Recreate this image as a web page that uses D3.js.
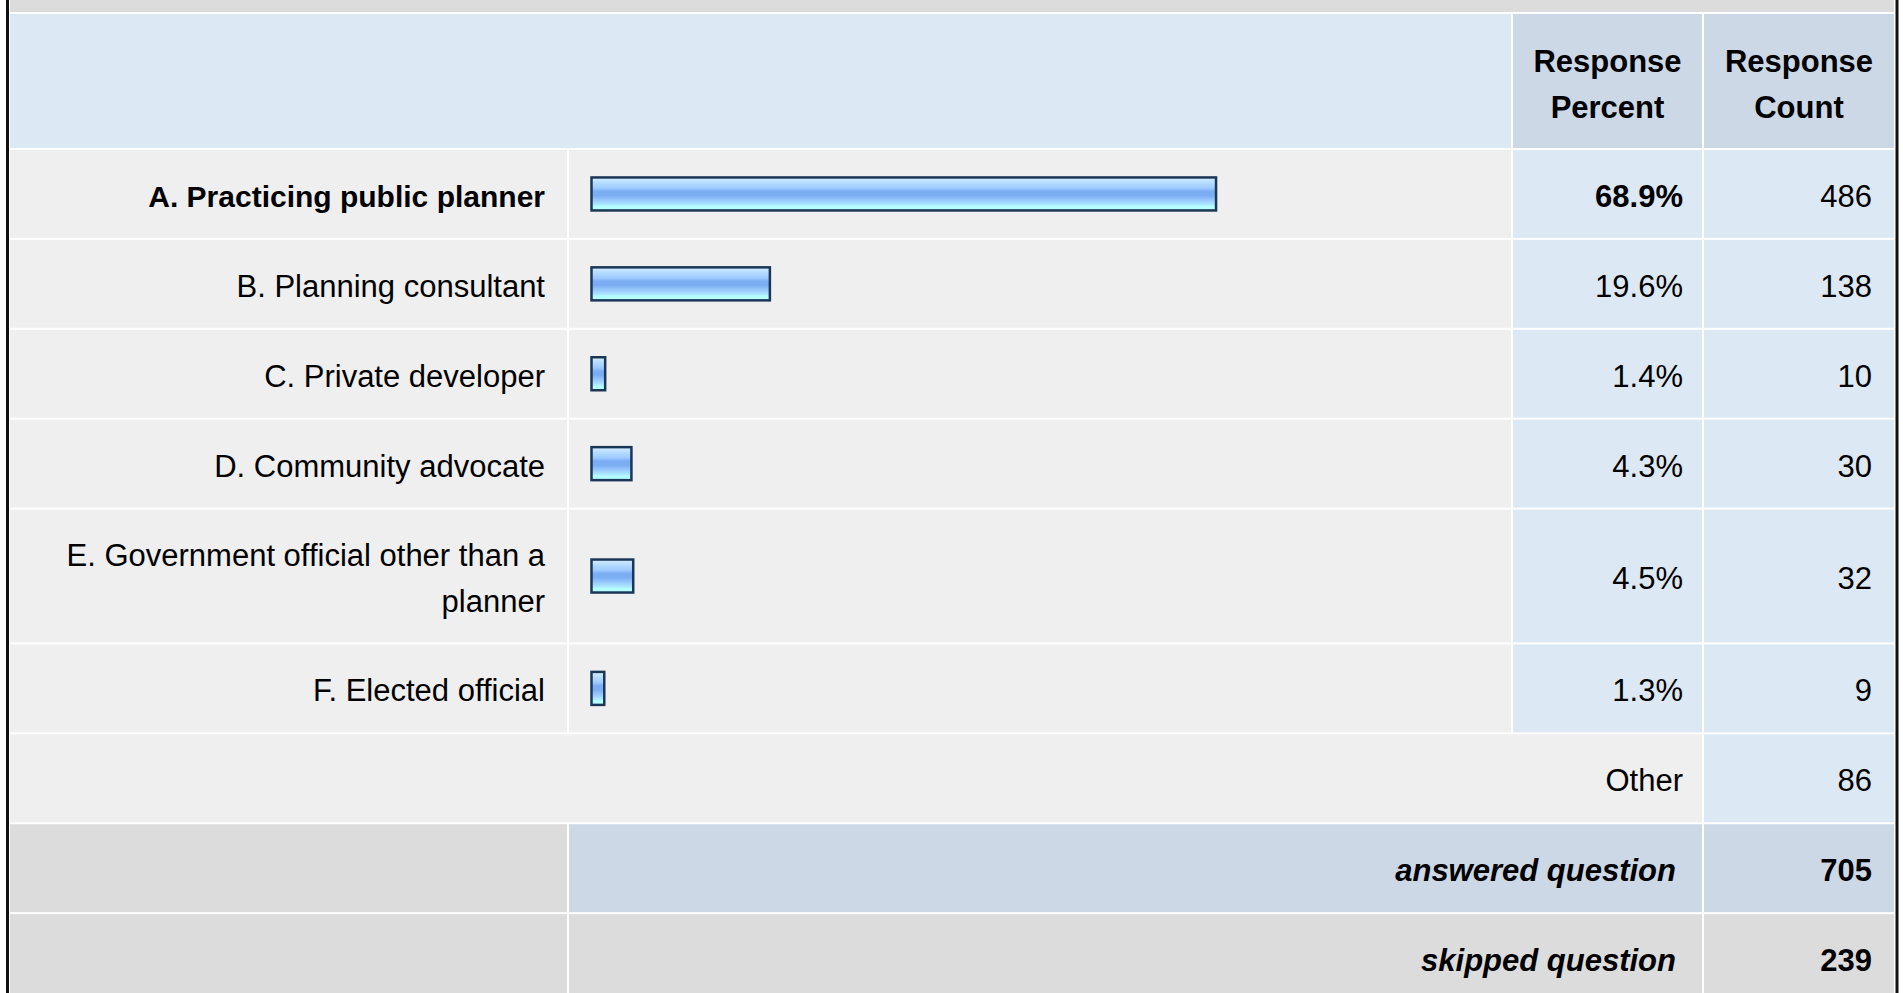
<!DOCTYPE html>
<html>
<head>
<meta charset="utf-8">
<script src="https://cdn.jsdelivr.net/npm/d3@7"></script>
<style>
  body { margin: 0; background: #fff; }
  svg text { font-family: "Liberation Sans", Arial, Helvetica, sans-serif; font-size: 31px; fill: #000; }
</style>
</head>
<body>
<div id="graph"></div>
<script>
// survey answers
var labels = ["A. Practicing public planner", "B. Planning consultant", "C. Private developer",
              "D. Community advocate", "E. Government official other than a planner", "F. Elected official"];
var percents = [68.9, 19.6, 1.4, 4.3, 4.5, 1.3];
var counts = [486, 138, 10, 30, 32, 9];
var otherCount = 86;
var answeredCount = 705;
var skippedCount = 239;
var headerPercent = ["Response", "Percent"];
var headerCount = ["Response", "Count"];

var svgWidth = 1903;
var svgHeight = 993;

// column edges
var colLabel = [10, 567];
var colBar = [569, 1511];
var colPct = [1513, 1702];
var colCount = [1704, 1894];

var rowPitch = 89.9;
var gap = 2;
var firstRowTop = 150;
var rowUnits = labels.map(d => d.length > 36 ? 1.5 : 1);

var grayLight = "#efefef";
var grayDark = "#dcdcdc";
var blueLight = "#dde8f5";
var blueDark = "#ccd8e6";

var $svg = d3.select("#graph")
    .append("svg")
    .attr("width", svgWidth)
    .attr("height", svgHeight);

var defs = $svg.append("defs");
var grad = defs.append("linearGradient")
    .attr("id", "barGrad")
    .attr("x1", 0).attr("y1", 0).attr("x2", 0).attr("y2", 1);
[[0, "#d8eeff"], [0.14, "#b8deff"], [0.32, "#9ecbff"], [0.42, "#7badf3"], [0.55, "#7badf3"],
 [0.66, "#93c3fb"], [0.8, "#a8e2ff"], [0.88, "#b4ffff"], [1, "#b4ffff"]].forEach(s => {
    grad.append("stop").attr("offset", s[0]).attr("stop-color", s[1]);
});

function cell(x0, x1, y0, h, fill){
    $svg.append("rect")
        .attr("x", x0).attr("y", y0)
        .attr("width", x1 - x0).attr("height", h)
        .attr("fill", fill);
}

function txt(x, y, s, anchor, weight, style){
    return $svg.append("text")
        .attr("x", x).attr("y", y)
        .attr("text-anchor", anchor || "end")
        .attr("font-weight", weight || "normal")
        .attr("font-style", style || "normal")
        .text(s);
}

var textDy = 13;

// top band + header
cell(colLabel[0], colCount[1], 0, 12, grayDark);
cell(colLabel[0], colBar[1], 14, 134, blueLight);
cell(colPct[0], colPct[1], 14, 134, blueDark);
cell(colCount[0], colCount[1], 14, 134, blueDark);
[headerPercent, headerCount].forEach((lines, j) => {
    var col = j == 0 ? colPct : colCount;
    lines.forEach((s, k) => {
        txt((col[0] + col[1]) / 2, 72 + k * 46, s, "middle", "bold");
    });
});

var x = d3.scaleLinear().domain([0, 100]).range([0, 905]);

var tops = [];
var yy = firstRowTop;
rowUnits.forEach(u => { tops.push(yy); yy += u * rowPitch; });

labels.forEach((label, i) => {
    var h = rowUnits[i] * rowPitch - gap;
    var top = tops[i];
    var mid = top + h / 2;
    cell(colLabel[0], colLabel[1], top, h, grayLight);
    cell(colBar[0], colBar[1], top, h, grayLight);
    cell(colPct[0], colPct[1], top, h, blueLight);
    cell(colCount[0], colCount[1], top, h, blueLight);

    var w = i == 0 ? "bold" : "normal";
    // wrap the label into lines
    var t = txt(colLabel[1] - 22, 0, "", "end", w);
    var words = label.split(" ");
    var lines = [];
    var line = [];
    words.forEach(word => {
        line.push(word);
        t.text(line.join(" "));
        if (t.node().getComputedTextLength() > 505 && line.length > 1) {
            line.pop();
            lines.push(line.join(" "));
            line = [word];
        }
    });
    lines.push(line.join(" "));
    t.remove();
    lines.forEach((s, k) => {
        var lt = txt(colLabel[1] - 22, mid + textDy + (k - (lines.length - 1) / 2) * 46, s, "end", w);
        if (i == 0) lt.style("font-size", "30px");
    });

    $svg.append("rect")
        .attr("x", 591.5)
        .attr("y", mid - 16.5)
        .attr("width", x(percents[i]) + 1)
        .attr("height", 33)
        .attr("fill", "url(#barGrad)")
        .attr("stroke", "#1c3658")
        .attr("stroke-width", 2.5);

    txt(colPct[1] - 19, mid + textDy, percents[i].toFixed(1) + "%", "end", w);
    txt(colCount[1] - 22, mid + textDy, counts[i], "end");
});

// other row
var otherTop = yy;
var hh = rowPitch - gap;
cell(colLabel[0], colPct[1], otherTop, hh, grayLight);
cell(colCount[0], colCount[1], otherTop, hh, blueLight);
txt(colPct[1] - 19, otherTop + hh / 2 + textDy, "Other");
txt(colCount[1] - 22, otherTop + hh / 2 + textDy, otherCount);

// answered row
var ansTop = otherTop + rowPitch;
cell(colLabel[0], colLabel[1], ansTop, hh, grayDark);
cell(colBar[0], colPct[1], ansTop, hh, blueDark);
cell(colCount[0], colCount[1], ansTop, hh, blueDark);
txt(colPct[1] - 26, ansTop + hh / 2 + textDy, "answered question", "end", "bold", "italic");
txt(colCount[1] - 22, ansTop + hh / 2 + textDy, answeredCount, "end", "bold");

// skipped row
var skTop = ansTop + rowPitch;
cell(colLabel[0], colLabel[1], skTop, svgHeight - skTop, grayDark);
cell(colBar[0], colPct[1], skTop, svgHeight - skTop, grayDark);
cell(colCount[0], colCount[1], skTop, svgHeight - skTop, grayDark);
txt(colPct[1] - 26, skTop + hh / 2 + textDy, "skipped question", "end", "bold", "italic");
txt(colCount[1] - 22, skTop + hh / 2 + textDy, skippedCount, "end", "bold");

// outer borders
$svg.append("rect").attr("x", 6).attr("y", 0).attr("width", 3).attr("height", svgHeight).attr("fill", "#111");
$svg.append("rect").attr("x", 1895.5).attr("y", 0).attr("width", 3).attr("height", svgHeight).attr("fill", "#111");
</script>
</body>
</html>
